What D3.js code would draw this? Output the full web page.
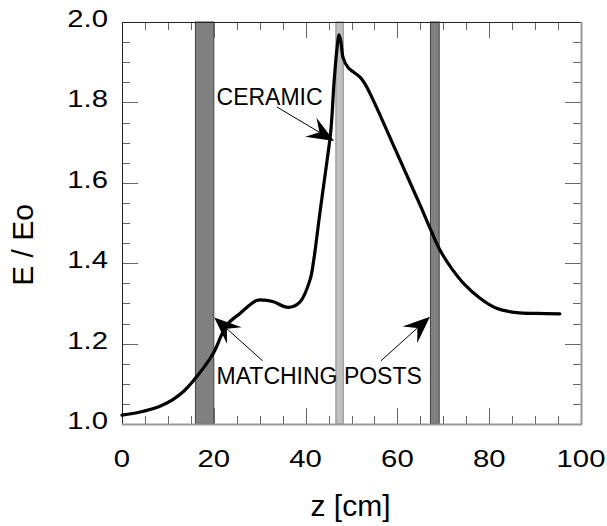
<!DOCTYPE html>
<html>
<head>
<meta charset="utf-8">
<script src="https://cdn.jsdelivr.net/npm/d3@7"></script>
<style>
  html, body { margin: 0; padding: 0; background: #fff; }
  svg { display: block; font-family: "Liberation Sans", Arial, sans-serif; }
</style>
</head>
<body>
<svg id="chart" width="607" height="526"></svg>
<script>
// ---- data ----
const curveZ = [0, 4, 8, 11, 13.5, 16.3, 19.9, 22.8, 25.7, 29.3, 31, 33, 36.2, 38.8, 41, 41.8, 43.1, 44.6, 45.5, 46.2, 46.8, 47.3, 47.7, 48.2, 49.3, 50.5, 51.9, 53, 54, 56.2, 59, 62, 65, 67.1, 69.3, 72, 74.4, 78, 81.6, 86, 90.3, 95.4];
const curveE = [1.022, 1.03, 1.043, 1.06, 1.082, 1.118, 1.176, 1.246, 1.275, 1.307, 1.308, 1.304, 1.29, 1.304, 1.36, 1.41, 1.524, 1.649, 1.73, 1.85, 1.93, 1.968, 1.95, 1.91, 1.886, 1.875, 1.862, 1.845, 1.823, 1.769, 1.697, 1.62, 1.543, 1.487, 1.432, 1.384, 1.35, 1.313, 1.288, 1.277, 1.275, 1.274];
const barStart = [16, 46.6, 67.2];
const barEnd   = [20, 48.2, 69.1];
const barKind  = ["post", "ceramic", "post"];
const xTickLabels = [0, 20, 40, 60, 80, 100];
const yTickLabels = [1.0, 1.2, 1.4, 1.6, 1.8, 2.0];
const xLabel = "z [cm]";
const yLabel = "E / Eo";
const annoText = ["CERAMIC", "MATCHING POSTS"];
const annoZ = [20.6, 20.6];
const annoE = [1.794, 1.10];
// arrows: start (z,E) -> tip (z,E)
const arrowFromZ = [33.7, 30.65, 56.4];
const arrowFromE = [1.789, 1.157, 1.157];
const arrowToZ = [46.2, 20.1, 67.1];
const arrowToE = [1.704, 1.265, 1.267];

// ---- layout ----
const svg = d3.select("#chart");
const L = 122, R = 581, T = 22, B = 424;
const x = d3.scaleLinear().domain([0, 100]).range([L, R]);
const y = d3.scaleLinear().domain([1, 2]).range([B, T]);

// bars
const kindFill = { post: "#808080", ceramic: "#c0c0c0" };
const kindStroke = { post: "#404040", ceramic: "#8a8a8a" };
svg.append("g").selectAll("rect").data(barStart).join("rect")
  .attr("x", (d) => x(d))
  .attr("y", T)
  .attr("width", (d, i) => x(barEnd[i]) - x(d))
  .attr("height", B - T)
  .attr("fill", (d, i) => kindFill[barKind[i]])
  .attr("stroke", (d, i) => kindStroke[barKind[i]])
  .attr("stroke-width", 1);

// ticks (inside, all four sides)
const tg = svg.append("g").attr("stroke", "#666").attr("stroke-width", 1);
const xMinor = x.ticks(20);
const yMinor = y.ticks(20);
const isMajorX = (v) => Math.abs(v / 20 - Math.round(v / 20)) < 1e-6;
const isMajorY = (v) => Math.abs((v - 1) / 0.2 - Math.round((v - 1) / 0.2)) < 1e-6;
xMinor.forEach((v) => {
  const len = isMajorX(v) ? 16 : 8;
  const px = Math.round(x(v)) + 0.5;
  tg.append("line").attr("x1", px).attr("x2", px).attr("y1", B).attr("y2", B - len);
  tg.append("line").attr("x1", px).attr("x2", px).attr("y1", T).attr("y2", T + len);
});
yMinor.forEach((v) => {
  const len = isMajorY(v) ? 16 : 8;
  const py = Math.round(y(v)) + 0.5;
  tg.append("line").attr("x1", L).attr("x2", L + len).attr("y1", py).attr("y2", py);
  tg.append("line").attr("x1", R).attr("x2", R - len).attr("y1", py).attr("y2", py);
});

// frame
svg.append("line").attr("x1", L).attr("x2", R).attr("y1", T + 0.5).attr("y2", T + 0.5).attr("stroke", "#222").attr("stroke-width", 1);
svg.append("line").attr("x1", L + 0.5).attr("x2", L + 0.5).attr("y1", T).attr("y2", B).attr("stroke", "#222").attr("stroke-width", 1);
svg.append("line").attr("x1", L).attr("x2", R + 1).attr("y1", B + 0.5).attr("y2", B + 0.5).attr("stroke", "#999").attr("stroke-width", 2);
svg.append("line").attr("x1", R + 0.5).attr("x2", R + 0.5).attr("y1", T).attr("y2", B + 1).attr("stroke", "#999").attr("stroke-width", 2);

// tick labels
svg.append("g").selectAll("text").data(xTickLabels).join("text")
  .attr("transform", (d) => `translate(${x(d)},${B + 43}) scale(1.22,1)`)
  .attr("text-anchor", "middle")
  .attr("font-size", 24)
  .attr("fill", "#000")
  .text((d) => d3.format("d")(d));
svg.append("g").selectAll("text").data(yTickLabels).join("text")
  .attr("transform", (d) => `translate(${L - 14},${y(d) + 5}) scale(1.22,1)`)
  .attr("text-anchor", "end")
  .attr("font-size", 24)
  .attr("fill", "#000")
  .text((d) => d3.format(".1f")(d));

// axis titles
svg.append("text")
  .attr("x", (L + R) / 2 - 1).attr("y", 516)
  .attr("text-anchor", "middle").attr("font-size", 30).attr("fill", "#000")
  .text(xLabel);
svg.append("text")
  .attr("transform", `translate(33,${(T + B) / 2 + 22}) rotate(-90)`)
  .attr("text-anchor", "middle").attr("font-size", 30).attr("fill", "#000")
  .text(yLabel);

// curve
const pts = curveZ.map((z, i) => [z, curveE[i]]);
svg.append("path")
  .datum(pts)
  .attr("fill", "none")
  .attr("stroke", "#000")
  .attr("stroke-width", 3.2)
  .attr("stroke-linejoin", "round")
  .attr("stroke-linecap", "round")
  .attr("d", d3.line().x((d) => x(d[0])).y((d) => y(d[1])).curve(d3.curveCatmullRom.alpha(0.5)));

// annotations
svg.append("g").selectAll("text").data(annoText).join("text")
  .attr("x", (d, i) => x(annoZ[i]))
  .attr("y", (d, i) => y(annoE[i]))
  .attr("font-size", 23)
  .attr("fill", "#000")
  .text((d) => d);

// arrows
const ag = svg.append("g");
arrowFromZ.forEach((fz, i) => {
  const x0 = x(fz), y0 = y(arrowFromE[i]);
  const x1 = x(arrowToZ[i]), y1 = y(arrowToE[i]);
  const dx = x1 - x0, dy = y1 - y0, len = Math.hypot(dx, dy);
  const ux = dx / len, uy = dy / len, px = -uy, py = ux;
  const back = 27, notch = 17, half = 11;
  ag.append("line").attr("x1", x0).attr("y1", y0)
    .attr("x2", x1 - ux * notch).attr("y2", y1 - uy * notch)
    .attr("stroke", "#000").attr("stroke-width", 1);
  const head = [
    [x1, y1],
    [x1 - ux * back + px * half, y1 - uy * back + py * half],
    [x1 - ux * notch, y1 - uy * notch],
    [x1 - ux * back - px * half, y1 - uy * back - py * half]
  ];
  ag.append("path").attr("d", "M" + head.map((p) => p.join(",")).join("L") + "Z").attr("fill", "#000");
});
</script>
</body>
</html>
